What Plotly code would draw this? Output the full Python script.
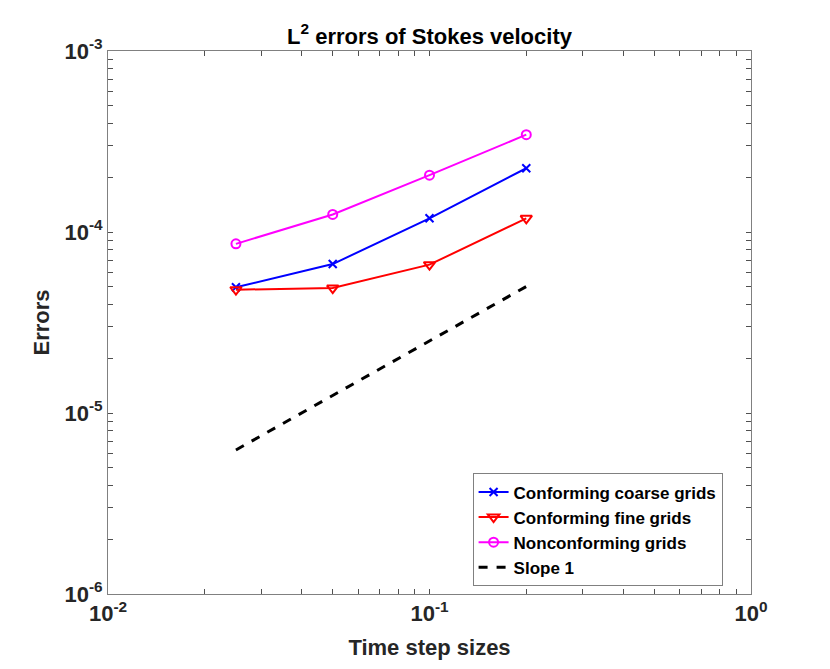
import plotly.graph_objects as go

# time step sizes
dt = [0.025, 0.05, 0.1, 0.2]

# L2 errors
coarse_err = [4.95e-5, 6.65e-5, 1.19e-4, 2.25e-4]
fine_err = [4.8e-5, 4.9e-5, 6.6e-5, 1.19e-4]
nonconf_err = [8.6e-5, 1.25e-4, 2.06e-4, 3.45e-4]
slope_ref = [6.25e-6, 1.25e-5, 2.5e-5, 5.0e-5]

xtick_vals = [1e-2, 1e-1, 1e0]
xtick_text = ['10<sup>-2</sup>', '10<sup>-1</sup>', '10<sup>0</sup>']
ytick_vals = [1e-6, 1e-5, 1e-4, 1e-3]
ytick_text = ['10<sup>-6</sup>', '10<sup>-5</sup>', '10<sup>-4</sup>', '10<sup>-3</sup>']

# minor ticks at 2..9 of every decade (unlabelled)
xminor = [m * 10.0 ** e for e in range(-2, 0) for m in range(2, 10)]
yminor = [m * 10.0 ** e for e in range(-6, -3) for m in range(2, 10)]

fig = go.Figure()

fig.add_trace(go.Scatter(x=dt, y=coarse_err, name='Conforming coarse grids',
                         mode='lines+markers',
                         line=dict(color='#0000ff', width=2),
                         marker=dict(symbol='x-thin', size=8, line=dict(color='#0000ff', width=2))))
fig.add_trace(go.Scatter(x=dt, y=fine_err, name='Conforming fine grids',
                         mode='lines+markers',
                         line=dict(color='#ff0000', width=2),
                         marker=dict(symbol='triangle-down-open', size=10, line=dict(color='#ff0000', width=2))))
fig.add_trace(go.Scatter(x=dt, y=nonconf_err, name='Nonconforming grids',
                         mode='lines+markers',
                         line=dict(color='#ff00ff', width=2),
                         marker=dict(symbol='circle-open', size=9, line=dict(color='#ff00ff', width=2))))
fig.add_trace(go.Scatter(x=dt, y=slope_ref, name='Slope 1',
                         mode='lines',
                         line=dict(color='black', width=3, dash='dash')))

axis_common = dict(
    type='log',
    showgrid=False,
    zeroline=False,
    showline=True,
    linecolor='#808080',
    linewidth=1,
    mirror='allticks',
    ticks='inside',
    ticklen=5,
    tickcolor='#505050',
    tickmode='array',
    tickfont=dict(family='Liberation Sans', size=22, color='#262626', weight='bold'),
)

# the page adds an 8px body margin, so shift margins to keep the plot box in place
fig.update_layout(
    width=830, height=669,
    margin=dict(l=100, r=87, t=43, b=83),
    plot_bgcolor='white',
    paper_bgcolor='white',
    font=dict(family='Liberation Sans', color='#262626'),
    title=dict(text='<b>L<sup>2</sup> errors of Stokes velocity</b>',
               x=(100 + 743) / 2 / 830, xanchor='center',
               y=1 - 28 / 669, yanchor='middle',
               font=dict(size=22, color='black')),
    xaxis=dict(axis_common, range=[-2, 0],
               tickvals=xtick_vals + xminor, ticktext=xtick_text + [''] * len(xminor),
               title=dict(text='<b>Time step sizes</b>', font=dict(size=22, color='#262626'), standoff=14)),
    yaxis=dict(axis_common, range=[-6, -3],
               tickvals=ytick_vals + yminor, ticktext=ytick_text + [''] * len(yminor),
               title=dict(text='<b>Errors</b>', font=dict(size=22, color='#262626'), standoff=8)),
    legend=dict(x=0.567, y=0.222, xanchor='left', yanchor='top',
                bgcolor='white', bordercolor='#808080', borderwidth=1,
                font=dict(family='Liberation Sans', size=17, color='black', weight='bold'),
                tracegroupgap=0, itemwidth=30),
    showlegend=True,
)

fig.write_html('out.html')
